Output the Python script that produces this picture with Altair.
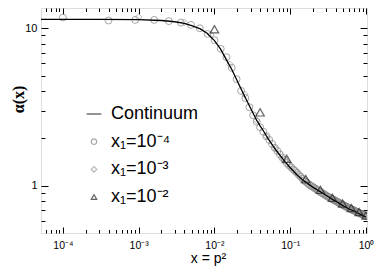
import math
import altair as alt
import pandas as pd

# ---------------- data ----------------
CONT_X = [5e-5, 1e-4, 3e-4, 1e-3, 2e-3, 3e-3, 4e-3, 5e-3, 6.5e-3, 8e-3, 0.01, 0.012,
          0.0144, 0.017, 0.0215, 0.025, 0.03, 0.0353, 0.04, 0.045, 0.05, 0.06, 0.07,
          0.0863, 0.1, 0.125, 0.157, 0.2, 0.245, 0.3, 0.365, 0.43, 0.51, 0.6, 0.69,
          0.8, 0.93, 1.0]
CONT_Y = [11.4, 11.4, 11.4, 11.35, 11.2, 11.0, 10.75, 10.4, 9.9, 9.3, 8.35, 7.4,
          6.3, 5.45, 4.3, 3.7, 3.1, 2.65, 2.4, 2.2, 2.02, 1.77, 1.6,
          1.41, 1.3, 1.16, 1.06, 0.975, 0.92, 0.865, 0.815, 0.78, 0.74, 0.71, 0.69,
          0.665, 0.64, 0.632]

X1E4_X = [0.0001, 0.0004, 0.0009, 0.0016, 0.0025, 0.0036, 0.0049, 0.0064, 0.0081, 0.01,
          0.0121, 0.0144, 0.0169, 0.0196, 0.0225, 0.0256, 0.0289, 0.0324, 0.0361, 0.04,
          0.0441, 0.0484, 0.0529, 0.0576, 0.0625, 0.0676, 0.0729, 0.0784, 0.0841, 0.09,
          0.0961, 0.1024, 0.1089, 0.1156, 0.1225, 0.1296, 0.1369, 0.1444, 0.1521, 0.16,
          0.1681, 0.1764, 0.1849, 0.1936, 0.2025, 0.2116, 0.2209, 0.2304, 0.2401, 0.25,
          0.2601, 0.2704, 0.2809, 0.2916, 0.3025, 0.3136, 0.3249, 0.3364, 0.3481, 0.36,
          0.3721, 0.3844, 0.3969, 0.4096, 0.4225, 0.4356, 0.4489, 0.4624, 0.4761, 0.49,
          0.5041, 0.5184, 0.5329, 0.5476, 0.5625, 0.5776, 0.5929, 0.6084, 0.6241, 0.64,
          0.6561, 0.6724, 0.6889, 0.7056, 0.7225, 0.7396, 0.7569, 0.7744, 0.7921, 0.81,
          0.8281, 0.8464, 0.8649, 0.8836, 0.9025, 0.9216, 0.9409, 0.9604, 0.9801, 1.0]
X1E4_Y = [11.7, 11.2, 11.3, 11.3, 11.1, 10.85, 10.5, 10.0, 9.2, 8.4,
          7.4, 6.55, 5.6, 4.75, 4.0, 3.6, 3.15, 2.8, 2.55, 2.35,
          2.2, 2.06, 1.95, 1.84, 1.74, 1.66, 1.58, 1.51, 1.45, 1.39,
          1.35, 1.31, 1.27, 1.24, 1.21, 1.17, 1.14, 1.11, 1.08, 1.06,
          1.04, 1.02, 1.0, 0.99, 0.975, 0.96, 0.95, 0.935, 0.925, 0.91,
          0.90, 0.89, 0.88, 0.87, 0.86, 0.85, 0.843, 0.835, 0.827, 0.82,
          0.813, 0.806, 0.80, 0.793, 0.787, 0.78, 0.774, 0.768, 0.762, 0.756,
          0.75, 0.745, 0.74, 0.735, 0.73, 0.725, 0.72, 0.716, 0.712, 0.708,
          0.704, 0.70, 0.696, 0.692, 0.688, 0.684, 0.68, 0.677, 0.673, 0.67,
          0.667, 0.664, 0.661, 0.658, 0.655, 0.652, 0.649, 0.646, 0.643, 0.64]

X1E3_X = [0.001, 0.004, 0.009, 0.016, 0.025, 0.036, 0.049, 0.064, 0.081, 0.1,
          0.121, 0.144, 0.169, 0.196, 0.225, 0.256, 0.289, 0.324, 0.361, 0.4,
          0.441, 0.484, 0.529, 0.576, 0.625, 0.676, 0.729, 0.784, 0.841, 0.9, 0.961]
X1E3_Y = [11.8, 10.9, 9.1, 5.9, 3.8, 2.6, 2.05, 1.72, 1.48, 1.33,
          1.21, 1.12, 1.04, 0.985, 0.94, 0.905, 0.872, 0.845, 0.82, 0.797,
          0.778, 0.76, 0.742, 0.727, 0.713, 0.70, 0.687, 0.676, 0.665, 0.655, 0.646]

X1E2_X = [0.01, 0.04, 0.09, 0.16, 0.25, 0.36, 0.49, 0.64, 0.81, 1.0]
X1E2_Y = [9.86, 2.92, 1.48, 1.10, 0.94, 0.836, 0.769, 0.72, 0.68, 0.645]

SERIES = ["Continuum", "x\u2081=10\u207b\u2074", "x\u2081=10\u207b\u00b3", "x\u2081=10\u207b\u00b2"]
SERIES_COLORS = ["#000000", "#808080", "#999999", "#222222"]
SERIES_SHAPES = ["M-2.7,0H2.7", "circle", "diamond", "triangle-up"]
MARK_SIZES = {"circle": 48, "diamond": 42, "triangle": 70}

X_MAJOR = [1e-4, 1e-3, 1e-2, 1e-1, 1.0]
X_MAJOR_LABELS = ["10\u207b\u2074", "10\u207b\u00b3", "10\u207b\u00b2", "10\u207b\u00b9", "10\u2070"]
X_MINOR = [m * 10.0 ** e for e in range(-5, 0) for m in range(2, 10)]
Y_MAJOR = [1.0, 10.0]
Y_MAJOR_LABELS = ["1", "10"]
Y_MINOR = [0.6, 0.7, 0.8, 0.9, 2, 3, 4, 5, 6, 7, 8, 9]

X_DOMAIN = [5.14e-5, 1.03]
Y_DOMAIN = [0.5, 13.45]

SANS = "Liberation Sans"


def label_expr(values, labels):
    expr = "''"
    for v, lab in reversed(list(zip(values, labels))):
        expr = "abs(log(datum.value)/LN10 - (%g)) < 0.01 ? '%s' : %s" % (math.log10(v), lab, expr)
    return expr


def make_axis(orient, values, tick, **kw):
    return alt.Axis(orient=orient, values=values, tickSize=tick, offset=-tick,
                    domain=False, grid=False, tickColor="black", tickWidth=1, **kw)


XS = alt.Scale(type="log", domain=X_DOMAIN, nice=False)
YS = alt.Scale(type="log", domain=Y_DOMAIN, nice=False)

ax_x_bottom = make_axis("bottom", X_MAJOR, 6, labels=True,
                        labelExpr=label_expr(X_MAJOR, X_MAJOR_LABELS),
                        labelFont=SANS, labelFontSize=10.5, labelColor="black",
                        labelPadding=7, labelFlush=False, labelOverlap=False,
                        title="x = p\u00b2", titleFont=SANS, titleFontSize=14,
                        titleFontWeight="normal", titleColor="black",
                        titleX=167, titleY=35, titleBaseline="alphabetic",
                        titleAlign="center")
ax_x_bottom_minor = make_axis("bottom", X_MINOR, 3.5, labels=False, title=None)
ax_x_top = make_axis("top", X_MAJOR, 6, labels=False, title=None)
ax_x_top_minor = make_axis("top", X_MINOR, 3.5, labels=False, title=None)

ax_y_left = make_axis("left", Y_MAJOR, 7, labels=True,
                      labelExpr=label_expr(Y_MAJOR, Y_MAJOR_LABELS),
                      labelFont=SANS, labelFontSize=11, labelColor="black",
                      labelPadding=4, labelFlush=False, labelOverlap=False,
                      title="\u03b1(x)", titleFont="Liberation Serif", titleFontSize=16,
                      titleFontWeight="bold", titleColor="black",
                      titleX=-30, titleY=91, titleBaseline="middle", titleAlign="center",
                      titleAngle=270)
ax_y_left_minor = make_axis("left", Y_MINOR, 4, labels=False, title=None)
ax_y_right = make_axis("right", Y_MAJOR, 7, labels=False, title=None)
ax_y_right_minor = make_axis("right", Y_MINOR, 4, labels=False, title=None)

legend = alt.Legend(orient="none", legendX=44, legendY=97, title=None,
                    labelFont=SANS, labelFontSize=18, labelColor="black",
                    labelOffset=8, rowPadding=9.7, padding=0,
                    symbolSize=30, symbolStrokeWidth=1.2)

color_enc = alt.Color("series:N", scale=alt.Scale(domain=SERIES, range=SERIES_COLORS), legend=legend)
shape_enc = alt.Shape("series:N", scale=alt.Scale(domain=SERIES, range=SERIES_SHAPES), legend=legend)

df_cont = pd.DataFrame({"x": CONT_X, "y": CONT_Y})
df_c = pd.DataFrame({"x": X1E4_X, "y": X1E4_Y, "series": SERIES[1]})
df_d = pd.DataFrame({"x": X1E3_X, "y": X1E3_Y, "series": SERIES[2]})
df_t = pd.DataFrame({"x": X1E2_X, "y": X1E2_Y, "series": SERIES[3]})


def points(df, size, sw, xa, ya):
    return alt.Chart(df).mark_point(filled=False, strokeWidth=sw, size=size, clip=True).encode(
        x=alt.X("x:Q", scale=XS, axis=xa),
        y=alt.Y("y:Q", scale=YS, axis=ya),
        color=color_enc, shape=shape_enc,
    )


circles = points(df_c, MARK_SIZES["circle"], 1, ax_x_bottom, ax_y_left)
diamonds = points(df_d, MARK_SIZES["diamond"], 1, ax_x_bottom_minor, ax_y_left_minor)
line = alt.Chart(df_cont).mark_line(color="black", strokeWidth=1.3, clip=True).encode(
    x=alt.X("x:Q", scale=XS, axis=ax_x_top),
    y=alt.Y("y:Q", scale=YS, axis=ax_y_right),
)
triangles = points(df_t, MARK_SIZES["triangle"], 1.2, ax_x_top_minor, ax_y_right_minor)

chart = (
    alt.layer(circles, diamonds, line, triangles)
    .resolve_axis(x="independent", y="independent")
    .properties(width=326, height=225,
                padding={"left": 33, "top": 0, "right": 7, "bottom": 38},
                autosize=alt.AutoSizeParams(type="none"))
    .configure_view(stroke="black", strokeWidth=1)
    .configure(background="white")
)

chart.save("out.html", embed_options={"renderer": "svg", "actions": False})
